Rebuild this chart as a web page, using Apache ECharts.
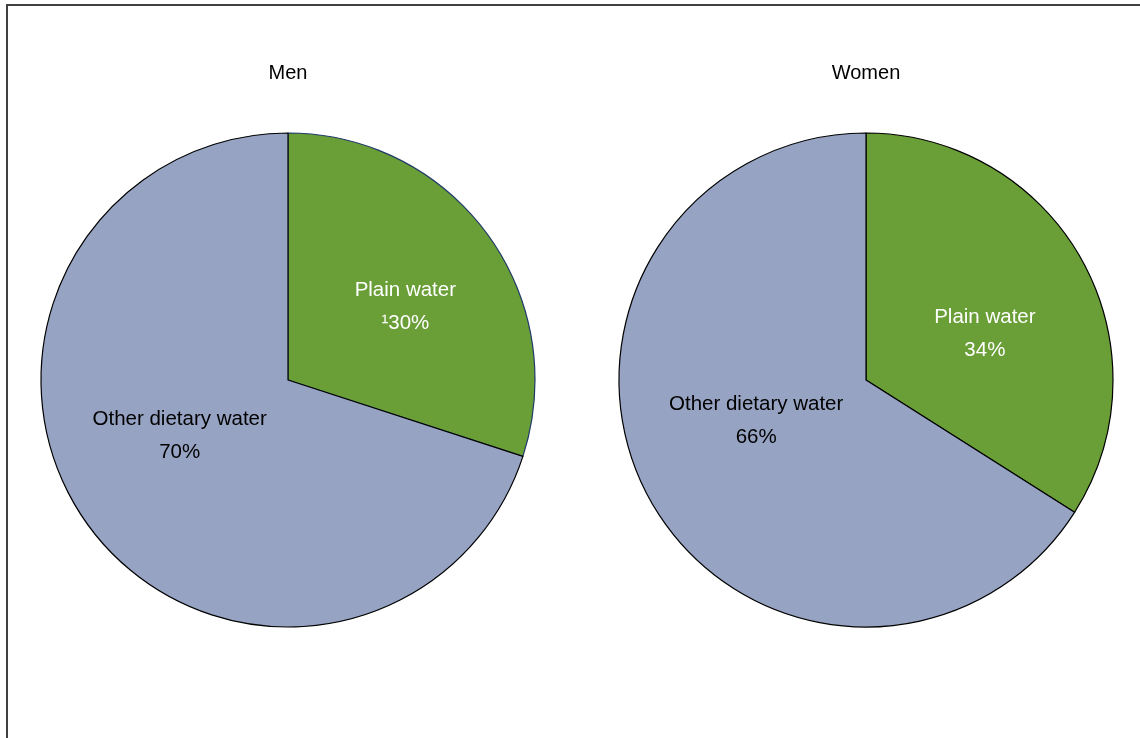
<!DOCTYPE html>
<html><head><meta charset="utf-8">
<script src="https://cdn.jsdelivr.net/npm/echarts@6/dist/echarts.min.js"></script>
<style>html,body{margin:0;padding:0;background:#fff}#c{width:1140px;height:738px}</style>
</head><body><div id="c"></div>
<script>
var categories = ['Plain water', 'Other dietary water'];
var groups = ['Men', 'Women'];
var menValues = [30, 70];
var womenValues = [34, 66];
var menNotes = ['\u00b9', ''];
var womenNotes = ['', ''];

var green = '#6a9e37', grey = '#96a3c2';
var font = 'Liberation Sans, Arial, sans-serif';

function makeData(vals, notes, offsets, plainBorder) {
  return categories.map(function (c, i) {
    return {
      name: c, value: vals[i], note: notes[i],
      itemStyle: { color: i === 0 ? green : grey, borderColor: i === 0 ? plainBorder : '#000', borderWidth: 1.2 },
      label: { color: i === 0 ? '#fff' : '#000', offset: offsets[i] }
    };
  });
}
function fmt(p) { return p.name + '\n' + (p.data.note || '') + p.value + '%'; }

var chart = echarts.init(document.getElementById('c'));
chart.setOption({
  animation: false,
  graphic: [{ type: 'rect', shape: { x: 7, y: 5, width: 1200, height: 800 }, style: { fill: 'none', stroke: '#404040', lineWidth: 2 }, silent: true }],
  title: [
    { text: groups[0], left: 283, top: 58, textAlign: 'center', textStyle: { fontFamily: font, fontSize: 20, fontWeight: 'normal', color: '#000' } },
    { text: groups[1], left: 861, top: 58, textAlign: 'center', textStyle: { fontFamily: font, fontSize: 20, fontWeight: 'normal', color: '#000' } }
  ],
  series: [
    { type: 'pie', center: [288, 380], radius: [0, 247], startAngle: 90, clockwise: true,
      label: { position: 'inside', formatter: fmt, fontFamily: font, fontSize: 20.5, lineHeight: 33, align: 'center' },
      labelLine: { show: false }, emphasis: { disabled: true },
      data: makeData(menValues, menNotes, [[15, 1], [-6, -19]], '#1f3a68') },
    { type: 'pie', center: [866, 380], radius: [0, 247], startAngle: 90, clockwise: true,
      label: { position: 'inside', formatter: fmt, fontFamily: font, fontSize: 20.5, lineHeight: 33, align: 'center' },
      labelLine: { show: false }, emphasis: { disabled: true },
      data: makeData(womenValues, womenNotes, [[8, 15], [1, -20]], '#000') }
  ]
});
</script></body></html>
